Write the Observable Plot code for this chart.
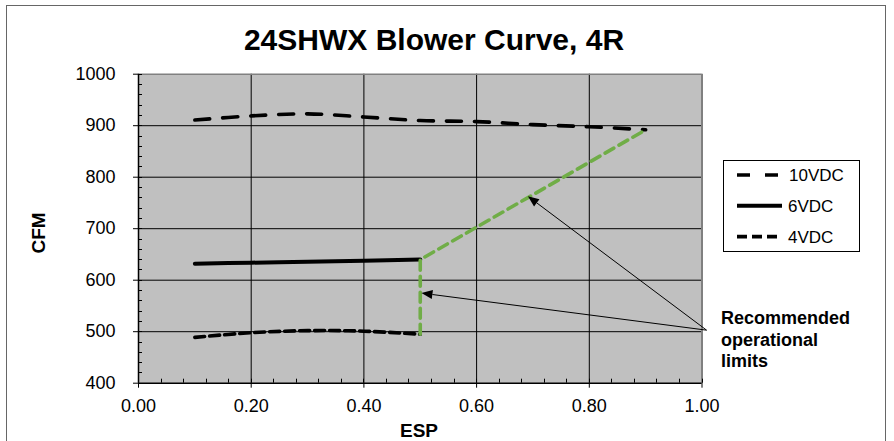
<!DOCTYPE html>
<html><head><meta charset="utf-8">
<script src="https://cdn.jsdelivr.net/npm/d3@7"></script>
<script src="https://cdn.jsdelivr.net/npm/@observablehq/plot@0.6"></script>
<style>
body{margin:0;background:#fff;font-family:"Liberation Sans",Arial,sans-serif;}
#wrap{position:relative;width:894px;height:441px;overflow:hidden;background:#fff;}
#border{position:absolute;left:6px;top:5px;width:880px;height:460px;border:1.5px solid #666;box-sizing:border-box;}
#chart{position:absolute;left:0;top:0;}
#title{position:absolute;left:0;top:25px;width:868px;text-align:center;font-weight:bold;font-size:30px;line-height:30px;color:#000;}
#ylab{position:absolute;left:38px;top:233px;transform:translate(-50%,-50%) rotate(-90deg);font-weight:bold;font-size:19px;line-height:19px;white-space:nowrap;}
#xlab{position:absolute;left:319px;width:200px;top:421px;text-align:center;font-weight:bold;font-size:19px;line-height:19px;}
#legend{position:absolute;left:723px;top:160px;width:137px;height:92px;border:1px solid #000;box-sizing:border-box;background:#fff;}
#note{position:absolute;left:721px;top:308px;font-weight:bold;font-size:18px;line-height:21.5px;color:#000;}
</style></head><body>
<div id="wrap">
  <div id="border"></div>
  <div id="chart"></div>
  <div id="title"></div>
  <div id="ylab"></div>
  <div id="xlab"></div>
  <div id="legend"></div>
  <div id="note"></div>
</div>
<script>
// ---- data ----
const titleText = "24SHWX Blower Curve, 4R";
const xLabel = "ESP";
const yLabel = "CFM";
const seriesNames = ["10VDC", "6VDC", "4VDC"];

const esp10 = [0.1, 0.2, 0.3, 0.4, 0.5, 0.6, 0.7, 0.8, 0.9];
const cfm10 = [911, 919, 923, 917, 910, 908, 902, 898, 892];

const esp6 = [0.1, 0.2, 0.3, 0.4, 0.5];
const cfm6 = [632, 634, 636, 638, 640];

const esp4 = [0.1, 0.2, 0.3, 0.4, 0.5];
const cfm4 = [489, 498, 502, 501, 495];

const limitEsp = [0.5, 0.5, 0.9];
const limitCfm = [495, 640, 892];

const noteLines = ["Recommended", "operational", "limits"];
const arrowFromEsp = [1.009, 1.009];
const arrowFromCfm = [502, 502];
const arrowToEsp = [0.692, 0.503];
const arrowToCfm = [762, 574];

const xTicks = [0, 0.2, 0.4, 0.6, 0.8, 1.0];
const yTicks = [400, 500, 600, 700, 800, 900, 1000];
const xMinor = d3.range(0, 1.0001, 0.04);
const yMinor = d3.range(400, 1000.001, 20);

// ---- build tables ----
const toRows = (xs, ys) => xs.map((x, i) => ({x, y: ys[i]}));
const s10 = toRows(esp10, cfm10);
const s6 = toRows(esp6, cfm6);
const s4 = toRows(esp4, cfm4);
const limit = toRows(limitEsp, limitCfm);
const arrows = arrowFromEsp.map((x, i) => ({x1: x, y1: arrowFromCfm[i], x2: arrowToEsp[i], y2: arrowToCfm[i]}));

const styles = {
  "10VDC": {dash: "15,13", width: 3.6},
  "6VDC": {dash: null, width: 4},
  "4VDC": {dash: "10,5", width: 3.6}
};

// custom renders using Plot's own scales
function minorTicks(index, scales, values, dims) {
  const g = d3.create("svg:g").attr("stroke", "#000").attr("stroke-width", 1);
  const x0 = scales.x(0), y0 = scales.y(400);
  for (const v of yMinor) {
    const y = Math.round(scales.y(v)) + 0.5;
    g.append("line").attr("x1", x0).attr("x2", x0 + 4).attr("y1", y).attr("y2", y);
  }
  for (const v of xMinor) {
    const x = Math.round(scales.x(v)) + 0.5;
    g.append("line").attr("x1", x).attr("x2", x).attr("y1", y0).attr("y2", y0 - 4);
  }
  return g.node();
}
function arrowMarks(index, scales) {
  const g = d3.create("svg:g");
  for (const a of arrows) {
    const x1 = scales.x(a.x1), y1 = scales.y(a.y1), x2 = scales.x(a.x2), y2 = scales.y(a.y2);
    const ang = Math.atan2(y2 - y1, x2 - x1);
    const L = 11, W = 4.5;
    const bx = x2 - L * Math.cos(ang), by = y2 - L * Math.sin(ang);
    g.append("line").attr("x1", x1).attr("y1", y1).attr("x2", bx).attr("y2", by)
      .attr("stroke", "#000").attr("stroke-width", 1);
    const px = -Math.sin(ang) * W, py = Math.cos(ang) * W;
    g.append("path").attr("d", `M${x2},${y2}L${bx + px},${by + py}L${bx - px},${by - py}Z`).attr("fill", "#000");
  }
  return g.node();
}

const chart = Plot.plot({
  width: 894,
  height: 441,
  marginLeft: 138,
  marginRight: 192.5,
  marginTop: 73.7,
  marginBottom: 58.3,
  style: {fontFamily: "'Liberation Sans', Arial, sans-serif", fontSize: "18px", background: "transparent", color: "#000", overflow: "visible"},
  x: {domain: [0, 1]},
  y: {domain: [400, 1000]},
  marks: [
    Plot.frame({fill: "#c0c0c0", stroke: null}),
    Plot.gridX(xTicks.slice(1, -1), {stroke: "#000", strokeOpacity: 1, strokeWidth: 1}),
    Plot.gridY(yTicks.slice(1, -1), {stroke: "#000", strokeOpacity: 1, strokeWidth: 1}),
    Plot.ruleY([1000], {stroke: "#808080", strokeWidth: 1.5}),
    Plot.ruleX([1], {stroke: "#808080", strokeWidth: 2}),
    Plot.ruleX([0], {stroke: "#000", strokeWidth: 1.5}),
    Plot.ruleY([400], {stroke: "#000", strokeWidth: 1.5}),
    minorTicks,
    Plot.axisY(yTicks, {tickSize: 5, tickPadding: 18, label: null, fontSize: 18, tickFormat: d => String(d), stroke: "#000"}),
    Plot.axisX(xTicks, {tickSize: 5, tickPadding: 11, label: null, fontSize: 18, tickFormat: d => d.toFixed(2), stroke: "#000"}),
    Plot.line(s10, {x: "x", y: "y", stroke: "#000", strokeWidth: styles["10VDC"].width, strokeDasharray: styles["10VDC"].dash, curve: "catmull-rom"}),
    Plot.line(s6, {x: "x", y: "y", stroke: "#000", strokeWidth: styles["6VDC"].width, curve: "catmull-rom"}),
    Plot.line(s4, {x: "x", y: "y", stroke: "#000", strokeWidth: styles["4VDC"].width, strokeDasharray: styles["4VDC"].dash, curve: "catmull-rom"}),
    Plot.line(limit, {x: "x", y: "y", stroke: "#70ad47", strokeWidth: 3.6, strokeDasharray: "10,6"}),
    arrowMarks
  ]
});
document.getElementById("chart").appendChild(chart);

document.getElementById("title").textContent = titleText;
document.getElementById("ylab").textContent = yLabel;
document.getElementById("xlab").textContent = xLabel;
document.getElementById("note").innerHTML = noteLines.join("<br>");

// legend
const lg = d3.select("#legend").append("svg").attr("width", 135).attr("height", 90);
seriesNames.forEach((name, i) => {
  const cy = 14 + i * 30.8;
  const st = styles[name];
  lg.append("line").attr("x1", 13).attr("x2", 58).attr("y1", cy).attr("y2", cy)
    .attr("stroke", "#000").attr("stroke-width", st.width)
    .attr("stroke-dasharray", name === "10VDC" ? "13,15" : st.dash);
  lg.append("text").attr("x", name === "10VDC" ? 65 : 64).attr("y", cy + 6)
    .attr("font-size", 17).attr("font-family", "'Liberation Sans', Arial, sans-serif").text(name);
});
</script>
</body></html>
